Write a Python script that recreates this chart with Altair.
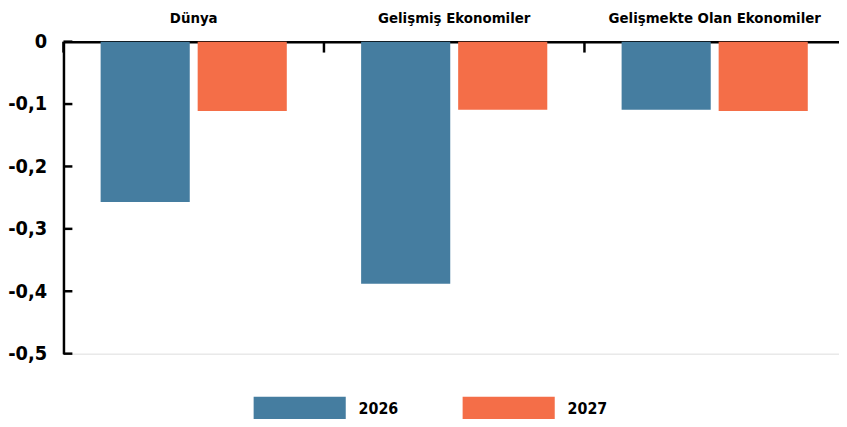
import altair as alt
import pandas as pd

categories = ["Dünya", "Gelişmiş Ekonomiler", "Gelişmekte Olan Ekonomiler"]
years = ["2026", "2027"]
values_2026 = [-0.257, -0.388, -0.109]
values_2027 = [-0.111, -0.109, -0.111]
y_ticks = [0, -0.1, -0.2, -0.3, -0.4, -0.5]
colors = ["#457DA0", "#F46E48"]

FONT = "DejaVu Sans Condensed"

rows = []
for c, a, b in zip(categories, values_2026, values_2027):
    rows.append({"cat": c, "year": "2026", "value": a})
    rows.append({"cat": c, "year": "2027", "value": b})
df = pd.DataFrame(rows)
tick_df = pd.DataFrame({"v": y_ticks})
cat_df = pd.DataFrame({"cat": categories})

yscale = alt.Scale(domain=[-0.5, 0], nice=False, zero=False)
xscale = alt.Scale(domain=categories, paddingInner=0, paddingOuter=0, range=[0, 789])

xaxis = alt.Axis(orient="top", title=None, labelAngle=0, ticks=False, grid=False,
                 domainColor="black", domainWidth=2.5, labelLimit=0,
                 labelFont=FONT, labelFontSize=15, labelFontWeight="bold",
                 labelColor="black", labelPadding=16)
yaxis = alt.Axis(title=None, values=y_ticks, ticks=False, grid=False,
                 domainColor="black", domainWidth=2.5, labelLimit=0,
                 labelExpr="replace(toString(datum.value), '.', ',')",
                 labelFont=FONT, labelFontSize=20, labelFontWeight="bold",
                 labelColor="black", labelPadding=17)

bars = alt.Chart(df).mark_bar().encode(
    x=alt.X("cat:N", sort=categories, scale=xscale, axis=xaxis),
    xOffset=alt.XOffset("year:N", sort=years,
                        scale=alt.Scale(paddingInner=0.0816, paddingOuter=0.383)),
    y=alt.Y("value:Q", scale=yscale, axis=yaxis),
    color=alt.Color("year:N", sort=years,
                    scale=alt.Scale(domain=years, range=colors),
                    legend=alt.Legend(title=None, orient="none", direction="horizontal",
                                      legendX=192, legendY=324,
                                      symbolType="M-1,-0.269L1,-0.269L1,0.269L-1,0.269Z",
                                      symbolSize=8649, symbolStrokeWidth=0,
                                      symbolOpacity=1, labelOffset=13,
                                      columnPadding=64, padding=0,
                                      labelFont=FONT, labelFontSize=16,
                                      labelFontWeight="bold", labelColor="black")),
)

yticks = alt.Chart(tick_df).mark_rule(color="black", strokeWidth=2.5).encode(
    y=alt.Y("v:Q", scale=yscale, axis=yaxis),
    x=alt.value(0),
    x2=alt.value(9),
)

xticks = alt.Chart(cat_df).mark_rule(color="black", strokeWidth=2.5).encode(
    x=alt.X("cat:N", sort=categories, scale=xscale, bandPosition=0, axis=xaxis),
    y=alt.value(0),
    y2=alt.value(11),
)

chart = alt.layer(bars, yticks, xticks).properties(
    width=783, height=315,
    autosize=alt.AutoSizeParams(type="none"),
    padding={"left": 56, "top": 32, "right": 0, "bottom": 64},
).configure_view(stroke="transparent", strokeWidth=0).configure(background="white")

chart.save("out.html", embed_options={"renderer": "svg", "actions": False})
